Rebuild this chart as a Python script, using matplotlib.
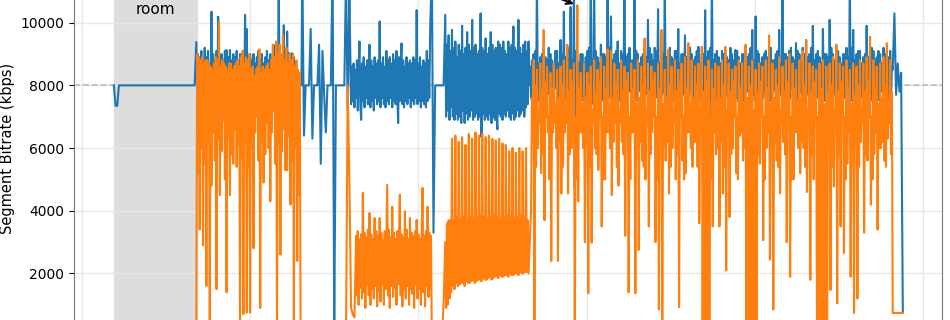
import numpy as np
import matplotlib
matplotlib.use('Agg')
import matplotlib.pyplot as plt

# segment bitrate traces (kbps); each piece starts at a time and has a fixed sample step
blue_wait = [8000, 7350, 7350, 8000]
blue_wait_end = [8000]
blue_a = [9385, 7600, 9000, 7800, 8900, 7500, 9100, 7700, 8800, 7600,
          9200, 7500, 8900, 7800, 9100, 7600, 8700, 7700, 10350, 7500,
          9000, 7800, 8800, 7600, 9100, 7700, 10190, 7500, 8900, 7800,
          9000, 7600, 8800, 7700, 9100, 7500, 9130, 7800, 8900, 7600,
          9130, 7700, 8800, 7500, 9000, 7800, 8900, 7600, 9100, 7700,
          8800, 7500, 9000, 7800, 8900, 7600, 9100, 7700, 10250, 7500,
          9800, 7800, 8900, 7600, 9000, 7700, 8800, 7500, 9000, 7800,
          8700, 7600, 8900, 7700, 9100, 7500, 8800, 7800, 9000, 7600,
          8700, 7700, 8900, 7500, 9100, 7800, 8800, 7600, 9000, 7700,
          8800, 7500, 9290, 7800, 9100, 7600, 9200, 7700, 11500, 7500,
          9000, 7800, 8900, 7600, 9920, 7700, 9000, 7500, 9720, 7800,
          9030, 7600, 9000, 7700, 9030, 7500, 8900, 7800, 8600, 7600,
          8260, 7700, 6670, 8000, 8200, 8000]
blue_b = [11800, 6400, 8000, 8000, 8000, 9800, 6300, 8000, 8000, 8000, 9300, 5500, 9100, 7700, 6500, 8000,
          8000, 8000, 11800, 300, 8000, 8000, 8000, 8000, 8000, 8000, 11500, 7200, 11000]
blue_c = [7400, 8600, 7500, 8700, 7300, 8500, 7600, 8800, 7200, 8600,
          9400, 7400, 6900, 8700, 7500, 8900, 7300, 8600, 7600, 8800,
          7400, 8700, 9300, 7300, 8800, 7500, 8600, 7200, 8900, 7600,
          8700, 7400, 8800, 7500, 10040, 7300, 8700, 7600, 8900, 7400,
          8600, 7300, 9100, 7500, 8800, 7400, 8900, 7600, 8700, 7300,
          9000, 7500, 8800, 7400, 9100, 7600, 6800, 8900, 7500, 8700,
          9340, 7400, 8800, 7300, 8600, 7500, 8900, 7400, 8700, 7600,
          8800, 7300, 8700, 7500, 8900, 7400, 8800, 7600, 10400, 7400,
          8700, 7500, 8900, 7300, 8600, 7500, 8800, 7400, 8700, 7300,
          9100, 7500, 8800, 7600]
blue_d = [9700, 11900, 3300, 8000]
blue_d_end = [8000]
blue_e = [10250, 7000, 9300, 7200, 9600, 6900, 9100, 7300, 9770, 7000,
          9200, 6900, 9400, 7100, 8900, 6900, 9300, 7000, 9100, 6800,
          9900, 7200, 9000, 6800, 9200, 7100, 9700, 6900, 9300, 7000,
          9100, 7200, 10090, 6900, 9200, 7000, 9300, 7100, 9000, 6900,
          9100, 7000, 10300, 6350, 9200, 7100, 9100, 6900, 9500, 7000,
          9000, 6900, 9200, 7100, 9700, 6800, 9300, 7000, 9100, 6900,
          9200, 7000, 6600, 9400, 7100, 9300, 7000, 9200, 6900, 9400,
          7100, 9100, 7000, 9000, 7200, 9400, 7000, 9200, 6900, 9300,
          7100, 9880, 6900, 9200, 7000, 9100, 7200, 10090, 7000, 9200,
          7100, 9000, 7200, 9300, 7000, 9400, 7300, 9100, 7400, 9400]
blue_f = [8000, 8600,
          7600, 8800, 7700, 9000, 7800, 9100, 7500, 11500, 7500, 8700, 7900, 8900, 7900, 9000, 7600, 9200,
          7600, 8900, 7800, 8800, 7800, 9200, 7700, 9000, 7500, 8800, 7500, 8700, 7900, 9100, 7900, 9100,
          7600, 8700, 7600, 9450, 7700, 9000, 7800, 10350, 7500, 8900, 7700, 9100, 7800, 9200, 7500, 10500,
          7600, 8800, 7900, 11500, 4700, 9100, 7600, 8800, 7700, 8700, 7800, 9000, 7500, 9000, 7700, 8700,
          7800, 8900, 7500, 9100, 7600, 9200, 7900, 11500, 7400, 8800, 7600, 11500, 7700, 9100, 7800, 8900,
          7500, 8700, 7700, 9300, 7800, 9000, 7500, 9000, 7600, 8900, 7900, 11500, 7700, 9200, 7600, 10200,
          7500, 8800, 7800, 9000, 7800, 9100, 7700, 9400, 7600, 8700, 7500, 9100, 7700, 9000, 7900, 11500,
          7500, 8900, 7600, 9000, 7800, 9200, 7800, 8800, 7100, 8800, 7700, 11500, 7600, 9100, 7500, 9000,
          7800, 8700, 7900, 8900, 7600, 9000, 7600, 9200, 7700, 8900, 7800, 10090, 7500, 9200, 7700, 9000,
          7800, 8800, 7500, 9200, 7600, 9100, 7900, 10430, 7400, 8700, 7600, 9100, 7700, 9000, 7800, 11500,
          7600, 8900, 7700, 9000, 7800, 9200, 7500, 8900, 7500, 8800, 7900, 9100, 7700, 9100, 7600, 9800,
          7600, 8700, 7800, 9000, 7800, 9000, 7700, 9600, 7500, 8900, 7500, 9200, 7700, 9200, 7900, 9000,
          7600, 8800, 7600, 8900, 7800, 9100, 7800, 9230, 7500, 8700, 7700, 9000, 7700, 9000, 7500, 10400,
          7600, 8900, 7900, 9100, 5600, 9200, 7600, 11500, 7700, 8800, 7800, 9000, 7500, 9100, 7700, 8900,
          7800, 8700, 7500, 9100, 7600, 9000, 7900, 9000, 7700, 8900, 7600, 8800, 7500, 9200, 7800, 9000,
          7800, 8800, 7700, 9130, 7600, 9100, 7500, 8900, 7700, 8700, 7900, 9000, 7500, 9000, 7600, 9200,
          7800, 8900, 7800, 9000, 7600, 9200, 7700, 9770, 7700, 8800, 7500, 10200, 7500, 9100, 7900, 9000,
          7800, 8700, 7600, 8900, 7600, 9000, 7800, 9100, 7700, 8900, 7700, 9000, 7500, 9200, 7500, 8800,
          7800, 8800, 7900, 9000, 7600, 9100, 7600, 9770, 7700, 8700, 7800, 11500, 7500, 9000, 7700, 9000,
          7800, 8900, 7500, 9100, 7600, 9200, 7900, 8900, 7700, 8800, 7600, 9350, 7500, 9100, 7800, 9000,
          7800, 8700, 7700, 9200, 7600, 9000, 7500, 9450, 7700, 8900, 7900, 9000, 7500, 9200, 7600, 9900,
          7800, 8800, 7800, 9000, 7600, 9100, 7700, 8900, 7700, 8700, 7500, 9800, 7500, 9000, 7900, 9000,
          7800, 8900, 7600, 10090, 7600, 9200, 7800, 9000, 7700, 8800, 7700, 9100, 7500, 9100, 7500, 8900,
          7800, 8700, 7900, 9000, 7600, 9000, 7600, 9200, 7700, 8900, 7800, 11500, 7500, 9200, 7700, 9770,
          7800, 8800, 7500, 9000, 6350, 9100, 7900, 9100, 7700, 8700, 7600, 8900, 7500, 9000, 7800, 9900,
          7800, 8900, 7700, 9000, 7600, 9200, 7500, 9100, 7700, 8800, 7900, 8900, 7500, 9100, 7600, 9000,
          7800, 8700, 7800, 9200, 7600, 9000, 7700, 9000, 7700, 8900, 7500, 9100,
          7600, 8600]
blue_g = [8500, 10300, 7700, 8700, 7800, 8400, 750]
blue_starts = [19, 67, 68, 131, 160, 207, 215, 216, 266, 482]
blue_steps = [1, 1, 0.5, 1, 0.5, 1, 1, 0.5, 0.5, 1]

orange_a = [300, 9000, 5200, 8900, 3400, 8800, 6000, 8900, 2900, 8700, 5500, 8800, 1600, 8800, 6200, 8700,
            200, 8600, 4800, 8500, 6500, 8700, 5600, 8900, 1500, 8800, 6300, 10000, 4500, 8600, 5900, 8800,
            6900, 8700, 5000, 8600, 1400, 8500, 6400, 8700, 4500, 8700, 5800, 8500, 5500, 8600, 6600, 8700,
            5400, 8800, 6100, 8600, 300, 8900, 5700, 9100, 700, 8700, 6200, 8900, 750, 8800, 5400, 9000,
            750, 8500, 6000, 8600, 2800, 8300, 6500, 8500, 7000, 8600, 5600, 9150, 900, 8400, 6200, 8600,
            4900, 8500, 5800, 8600, 6800, 8700, 6000, 8500, 4300, 8800, 6500, 9300, 7200, 8900, 5500, 9400,
            200, 9000, 6200, 9300, 2600, 8900, 5900, 9600, 6600, 8800, 5300, 9200, 5300, 8700, 6400, 9000,
            4200, 8800, 5600, 9000, 300, 8600, 6000, 8800, 2400, 8500, 4500, 8400, 200, 0]
orange_b1 = [0, 8000, 5000, 900, 700, 600]
orange_b2 = [3200, 1300, 3350, 1000, 3100, 1550, 3250, 1200, 4570, 1400,
             3300, 900, 3150, 1650, 3400, 1300, 3930, 1000, 3250, 1500,
             3100, 1200, 3770, 1600, 3350, 950, 3200, 1450, 3770, 1100,
             3300, 1650, 3050, 1000, 3350, 1500, 3200, 4830, 1300, 3400,
             900, 3150, 1600, 4130, 1250, 3300, 1550, 3100, 1000, 3350,
             1650, 3200, 4510, 1300, 3250, 950, 3150, 1500, 3980, 1200,
             3400, 1600, 3100, 1000, 3770, 1500, 3300, 1350, 3200, 900,
             3350, 1650, 3710, 1200, 3250, 1500, 3100, 1000, 3300, 4730,
             1400, 3200, 950, 3350, 1600, 4130, 1250, 3300, 1500, 3200]
orange_b3 = [0]
orange_c1 = [0, 1000]
orange_c2 = [3000, 900, 3600, 1000, 3700, 1200, 3700, 1400, 6300, 1600, 3700, 1500, 6400, 1700, 3800, 1600,
             6200, 1650, 3750, 1700, 6350, 1700, 3800, 1600, 6100, 1750, 3700, 1700, 6450, 1700, 3800, 1750,
             6300, 1800, 3750, 1700, 6500, 1750, 3800, 1800, 6400, 1800, 3850, 1750, 6450, 1850, 3800, 1800,
             6350, 1800, 3750, 1850, 6400, 1900, 3800, 1800, 6300, 1850, 3850, 1900, 6250, 1900, 3800, 1850,
             6300, 1950, 3750, 1900, 6150, 1900, 3800, 1950, 6100, 1950, 3850, 1900, 5900, 2000, 3800, 1950,
             6000, 1950, 3750, 2000, 5850, 2000, 3800, 1950, 6000, 2050, 3850, 2000, 5900, 2000, 3800, 2050,
             6000, 2050, 3700, 2000]
orange_d = [4000, 7600, 6200, 8800, 200, 8000, 5400, 8500, 6000, 7200, 6800, 8700, 5200, 7800, 5800, 9770,
            3700, 8100, 7000, 8600, 6500, 7000, 5000, 8400, 2400, 7900, 6500, 8700, 6800, 7400, 6000, 8500,
            2400, 7600, 6200, 8600, 4550, 8000, 5400, 8800, 6500, 7200, 6800, 9300, 4550, 7800, 5800, 8500,
            6000, 8100, 7000, 8700, 0, 7000, 5000, 10560, 4300, 7900, 6500, 8400, 6500, 7400, 6000, 8700,
            3000, 7600, 6200, 8400, 1370, 8000, 5400, 8600, 2980, 7200, 6800, 8800, 6000, 7800, 5800, 8500,
            5300, 8100, 7000, 8900, 3500, 7000, 5000, 8600, 5000, 7900, 6500, 9150, 6500, 7400, 6000, 9100,
            4500, 7600, 6200, 8700, 6800, 8000, 5400, 8500, 4800, 7200, 6800, 8800, 6200, 7800, 5800, 8600,
            3200, 8100, 7000, 8400, 1400, 7000, 5000, 8700, 6500, 7900, 6500, 8500, 1370, 7400, 6000, 8800,
            2750, 7600, 6200, 8600, 5600, 8000, 5400, 9500, 5000, 7200, 6800, 8700, 3500, 7800, 5800, 8600,
            6500, 8100, 7000, 8400, 3000, 7000, 5000, 8700, 850, 7900, 6500, 9770, 0, 7400, 6000, 8500,
            5600, 7600, 6200, 9130, 4550, 8000, 5400, 8600, 6000, 7200, 6800, 8800, 5000, 7800, 5800, 8500,
            930, 8100, 7000, 8700, 5600, 7000, 5000, 8900, 5200, 7900, 6500, 9350, 6500, 7400, 6000, 8800,
            5400, 7600, 6200, 8600, 6200, 8000, 5400, 8700, 3600, 7200, 6800, 9230, 0, 7800, 300, 8600,
            0, 8100, 200, 8800, 0, 7000, 5000, 8500, 3500, 7900, 6500, 8700, 5800, 7400, 6000, 8600,
            3500, 7600, 6200, 8800, 4550, 8000, 5400, 9230, 2100, 7200, 6800, 8700, 3800, 7800, 5800, 8500,
            6000, 8100, 7000, 8600, 5200, 7000, 5000, 8800, 6400, 7900, 6500, 8700, 5600, 7400, 6000, 9300,
            0, 7600, 200, 8600, 200, 8000, 0, 8800, 0, 7200, 300, 8500, 0, 7800, 5800, 8700,
            5500, 8100, 7000, 8600, 3060, 7000, 5000, 8800, 6000, 7900, 6500, 9600, 2440, 7400, 6000, 8700,
            850, 7600, 6200, 8500, 5600, 8000, 5400, 8900, 4550, 7200, 6800, 8600, 6200, 7800, 5800, 8800,
            3000, 8100, 7000, 9000, 1890, 7000, 5000, 8700, 5000, 7900, 6500, 8500, 6500, 7400, 6000, 8800,
            5200, 7600, 6200, 9100, 6000, 8000, 5400, 9450, 4600, 7200, 6800, 8700, 1800, 7800, 5800, 8600,
            5000, 8100, 7000, 8500, 0, 7000, 200, 8700, 0, 7900, 0, 8800, 200, 7400, 300, 8600,
            0, 7600, 6200, 8700, 1470, 8000, 5400, 8900, 4770, 7200, 6800, 9300, 1050, 7800, 5800, 8700,
            3500, 8100, 7000, 8600, 2650, 7000, 5000, 8800, 5500, 7900, 6500, 8500, 1900, 7400, 6000, 8700,
            740, 7600, 6200, 8600, 1200, 8000, 5400, 8800, 6200, 7200, 6800, 8700, 3300, 7800, 5800, 8900,
            5600, 8100, 7000, 9550, 4200, 7000, 5000, 8800, 5800, 7900, 6500, 8600, 3400, 7400, 6000, 8700,
            6000, 7600, 6200, 8900, 5600, 8000, 5400, 9350, 6300, 7200, 6800, 8800, 5800, 7800, 740]
orange_e = [740]
orange_starts = [68, 157, 163, 208, 214, 216, 267, 488]
orange_steps = [0.5, 1, 0.5, 1, 1, 0.5, 0.5, 1]

wait_span = (19, 68.4)
peak = (294, 10560)
yticks = [2000, 4000, 6000, 8000, 10000]
xticks = [0, 100, 200, 300, 400, 500]


def join(starts, steps, pieces):
    ts = [t0 + step * np.arange(len(p)) for t0, step, p in zip(starts, steps, pieces)]
    return np.concatenate(ts), np.concatenate([np.asarray(p, float) for p in pieces])


tb, vb = join(blue_starts, blue_steps,
              [blue_wait, blue_wait_end, blue_a, blue_b, blue_c, blue_d, blue_d_end, blue_e, blue_f, blue_g])
to, vo = join(orange_starts, orange_steps,
              [orange_a, orange_b1, orange_b2, orange_b3, orange_c1, orange_c2, orange_d, orange_e])

fig = plt.figure(figsize=(9.5, 3.2), dpi=100)
ax = fig.add_axes([0.0779, -0.0506, 0.9137, 1.1756])

ax.axvspan(*wait_span, color='#dddddd', zorder=0)
ax.axhline(8000, color='#bbbbbb', ls='--', lw=1.2, zorder=1)
ax.plot(tb, vb, color='#1f77b4', lw=1.5, zorder=2)
ax.plot(to, vo, color='#ff7f0e', lw=1.5, zorder=3)

ax.text(sum(wait_span) / 2, 10280, 'Waiting\nroom', ha='center', va='baseline', fontsize=11)
ax.annotate('', xy=peak, xytext=(-50, 20), textcoords='offset points',
            arrowprops=dict(arrowstyle='->', color='black', lw=1.5))

ax.set_xlim(-4.7, 511.3)
ax.set_ylim(0, 12000)
ax.set_xticks(xticks)
ax.set_yticks(yticks)
ax.tick_params(labelbottom=False, labelsize=10)
ax.set_ylabel('Segment Bitrate (kbps)', fontsize=10.5)
ax.grid(True, color='#e8e8e8', lw=1)
ax.set_axisbelow(True)
for s in ax.spines.values():
    s.set_color('#777777')

fig.savefig('out.png', dpi=100)
